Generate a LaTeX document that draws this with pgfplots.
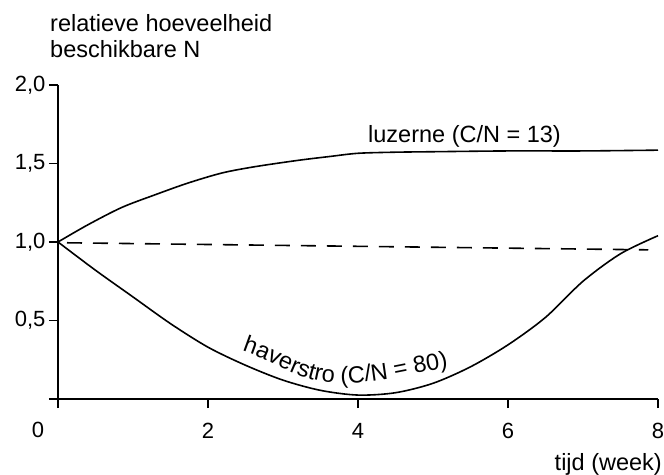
\documentclass[border=0pt]{standalone}
\usepackage{fontspec}
\setmainfont{Liberation Sans}
\usepackage{pgfplots}
\pgfplotsset{compat=1.18}
\usetikzlibrary{decorations.text}
\newcommand{\lbl}{\fontsize{23.5bp}{26bp}\selectfont}

\begin{document}
\begin{tikzpicture}
\begin{axis}[
  scale only axis,
  width=600bp, height=314bp,
  xmin=0, xmax=8, ymin=0, ymax=2,
  axis lines=left,
  axis line style={-, line width=1.5bp},
  tick style={line width=1.5bp, black},
  tick align=outside,
  major tick length=9bp,
  xtick={0,2,4,6,8}, xticklabels={,2,4,6,8},
  ytick={0,0.5,1,1.5,2}, yticklabels={,{0,5},{1,0},{1,5},{2,0}},
  ticklabel style={font=\fontsize{22bp}{24bp}\selectfont},
  xticklabel style={yshift=-12bp},
  clip=false,
]
% luzerne
\addplot[black, line width=1.6bp, smooth] coordinates {
  (0,1.0) (0.4,1.11) (0.85,1.22) (1.29,1.30) (1.73,1.375) (2.19,1.44)
  (2.63,1.48) (3.2,1.52) (3.63,1.545) (4,1.565) (4.5,1.572) (5,1.575)
  (6,1.58) (7,1.58) (8,1.585)
};
% haverstro
\addplot[black, line width=1.6bp, smooth] coordinates {
  (0,1.0) (0.5,0.82) (1,0.65) (1.5,0.48) (2,0.33) (2.5,0.215)
  (3,0.12) (3.5,0.055) (4,0.025) (4.5,0.04) (5,0.10) (5.5,0.205)
  (6,0.345) (6.5,0.52) (7,0.75) (7.5,0.925) (8,1.04)
};
% controle
\addplot[black, line width=1.6bp, dash pattern=on 15bp off 11bp] coordinates {
  (0.12,0.995) (7.87,0.95)
};
\coordinate (O) at (rel axis cs:0,0);
\end{axis}
\node[anchor=base west, inner sep=0] at ([shift={(-8bp,367bp)}]O) {\lbl relatieve hoeveelheid};
\node[anchor=base west, inner sep=0] at ([shift={(-8bp,341bp)}]O) {\lbl beschikbare N};
\node[anchor=base east, inner sep=0] at ([shift={(604bp,-71bp)}]O) {\lbl tijd (week)};
\node[anchor=center, inner sep=0] at ([shift={(-20bp,-31bp)}]O) {\fontsize{22bp}{24bp}\selectfont 0};
\node[anchor=base west, inner sep=0] at ([shift={(310bp,256bp)}]O) {\lbl luzerne (C/N = 13)};
\path[decorate, decoration={text along path, text align=left,
  text={|\lbl|haverstro (C/N = 80)}}]
  ([shift={(184bp,48bp)}]O) to[out=-18,in=180] ([shift={(282bp,16bp)}]O)
  to[out=0,in=188] ([shift={(400bp,33bp)}]O);
\pgfresetboundingbox
\path (O) ++(-58bp,-76bp) rectangle ++(664bp,475bp);
\end{tikzpicture}
\end{document}
